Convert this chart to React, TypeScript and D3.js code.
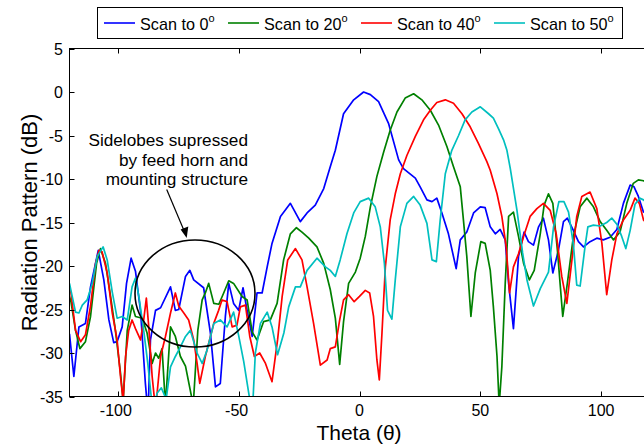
import React from "react";
import * as d3 from "d3";

type Pt = [number, number];

const xTicks = [-100, -50, 0, 50, 100];
const yTicks = [5, 0, -5, -10, -15, -20, -25, -30, -35];
const seriesNames = ["Scan to 0", "Scan to 20", "Scan to 40", "Scan to 50"];
const seriesColors = ["#0000ff", "#008000", "#ff0000", "#00bfbf"];
const noteLines = ["Sidelobes supressed", "by feed horn and", "mounting structure"];

const scan0: Pt[] = [
  [-120, -27.8], [-118.2, -32.7], [-116.1, -27.0], [-113.4, -26.6], [-111.3, -22.4], [-108.1, -18.2],
  [-105.8, -21.6], [-103.7, -26.2], [-101.7, -28.8], [-100.3, -28.7], [-98.2, -27.0], [-96.4, -22.0],
  [-94.5, -19.1], [-92.7, -20.6], [-90.6, -25.2], [-88.6, -33.5], [-87.5, -37], [-86.5, -28.5],
  [-84.4, -25.1], [-82.3, -24.8], [-78.2, -22.4], [-76.2, -25.1], [-74.8, -25.0], [-72, -21.2],
  [-70.2, -20.5], [-68.6, -21.6], [-64.5, -22.5], [-61.7, -27.7], [-59.6, -33.9], [-57.6, -33.5],
  [-55.5, -25.8], [-54.1, -22], [-52.1, -24.3], [-50, -25.1], [-48.2, -22.5], [-46.5, -25.1],
  [-44.4, -28.1], [-42.4, -23.1], [-40.3, -23.1], [-38.2, -20.1], [-36.2, -17.4], [-32.7, -14.3],
  [-28.6, -12.8], [-24.5, -14.9], [-21.7, -13.9], [-18.3, -13.0], [-14.8, -11.1], [-12.1, -8.6],
  [-10, -6.7], [-6.6, -2.5], [-2.4, -0.9], [1.7, 0.0], [4.5, -0.3], [7.9, -1.1], [12, -3.6],
  [16.2, -7.8], [18.2, -8.8], [23.1, -9.9], [25.1, -10.9], [27.9, -12.4], [30, -12.6], [32, -12.2],
  [34.1, -13.9], [36.8, -16.3], [40, -20.3], [41.7, -17], [44.4, -16.1], [47.2, -13.9], [50, -13.2],
  [52, -13.3], [54.1, -15.5], [56.2, -16.3], [58.2, -15.8], [60.3, -17], [61.7, -22], [63.7, -27.2],
  [65.8, -18.9], [68.1, -16.1], [69.9, -17.2], [72, -17.6], [74.1, -15.5], [76.1, -14.5], [78.2, -17],
  [80, -20.8], [82.3, -18.2], [84.4, -14.9], [86, -14.5], [88.5, -15.9], [90.6, -17.2], [92.7, -17.8],
  [95.4, -17.2], [98.2, -16.8], [100.9, -17], [103.7, -16.7], [106.5, -15.8], [109.2, -12.8],
  [112, -10.7], [113.6, -10.9], [115.4, -12], [117.5, -13.8], [120, -13.5],
];

const scan20: Pt[] = [
  [-120, -23.5], [-119.4, -24.1], [-117.5, -27.4], [-115.7, -29.5], [-113.4, -28.7], [-111.3, -25.8],
  [-108.8, -19.7], [-107.2, -18.0], [-105.1, -19.7], [-103, -23.5], [-101, -27.4], [-98.9, -32.3],
  [-97.8, -35.5], [-96.1, -27.4], [-94.1, -24.5], [-92.7, -25.8], [-89.9, -26], [-87.9, -27.7],
  [-85.8, -31.2], [-84.4, -30], [-83.1, -30.6], [-81.7, -29.5], [-80.3, -36], [-78.2, -27],
  [-76.2, -28.1], [-74.1, -30.4], [-72, -31.5], [-68.8, -36], [-66.9, -27.4], [-65.1, -23.9],
  [-63.8, -23.1], [-62.4, -22], [-60.3, -24.3], [-58.2, -24.4], [-56.2, -23.1], [-54.1, -21.7],
  [-52.1, -22], [-48.6, -23.5], [-46.5, -23.9], [-44.4, -27.6], [-42.4, -28.5], [-39.7, -26.4],
  [-36.9, -26.2], [-34.1, -24.3], [-31.4, -19.3], [-28.6, -16.3], [-26.1, -15.6], [-23.8, -16.1],
  [-21, -16.8], [-17.6, -17.8], [-14.8, -19.7], [-12.1, -22.7], [-10, -26], [-8.2, -31.3],
  [-6.6, -26.4], [-4.5, -22], [-1.7, -20.7], [0.3, -19.1], [2.4, -16.6], [4.5, -13.2], [7.2, -9.7],
  [10, -6.9], [12.7, -4.4], [15.5, -2.3], [18.9, -0.7], [22.4, -0.2], [25.8, -0.9], [29.3, -2.1],
  [32.7, -3.8], [36.2, -6.3], [38.9, -8.6], [41.7, -10.9], [43, -14.7], [44.4, -18.9], [46.1, -25.8],
  [47.9, -20.8], [50.2, -17.2], [52, -17.4], [54.1, -20.5], [55.4, -24.7], [56.9, -30.4], [57.8, -36],
  [58.9, -31.6], [60.3, -22], [61.7, -14.3], [63.7, -13.8], [65.8, -16.6], [67.9, -19.7], [70.3, -21.6],
  [72.3, -20.5], [74.8, -16.3], [76.4, -13.0], [78.2, -11.7], [80, -12.8], [81.9, -18.2], [84.1, -25.8],
  [86, -22], [88.5, -16.6], [91.3, -13.2], [94.1, -12.2], [96.8, -13.2], [99.6, -14.9], [102.3, -15.9],
  [105.1, -17], [107.8, -16.1], [110.6, -12.8], [113.3, -10.5], [115.4, -10.1], [117.5, -10.2], [120, -10.5],
];

const scan40: Pt[] = [
  [-120, -22.5], [-119.4, -23.1], [-117.5, -27.4], [-115.4, -28.7], [-113.4, -27.9], [-111.3, -24.6],
  [-109.2, -19.7], [-107.8, -18.2], [-106.5, -18.4], [-104.4, -20.8], [-102.3, -25.4], [-100.3, -28.5],
  [-98.9, -32.7], [-97.8, -35.5], [-96.8, -30.4], [-95.5, -27.4], [-94.1, -26.2], [-92.7, -27.2],
  [-90.6, -28.5], [-89.3, -26.2], [-88.2, -23.7], [-87.2, -27], [-85.8, -32.7], [-84.4, -36.5],
  [-82.3, -30.4], [-80.3, -28.1], [-78.2, -25.4], [-76.2, -23.1], [-74.8, -24.6], [-72.7, -25.4],
  [-70.7, -26.2], [-68.6, -28.5], [-67.2, -31.2], [-66.1, -33.5], [-63.8, -30.4], [-60.3, -26.6],
  [-58.3, -25.1], [-56.9, -23.9], [-54.8, -24.1], [-52.7, -27], [-50.7, -26.8], [-49.3, -24.7],
  [-47.2, -24.5], [-45.4, -28.1], [-43.5, -30.4], [-41.3, -30], [-38.9, -31.2], [-36.2, -33.3],
  [-33.9, -28.5], [-32, -23.5], [-29.7, -19.3], [-26.5, -18.0], [-23.8, -19.3], [-21.7, -22.4],
  [-19, -26.6], [-16.2, -31.4], [-13.4, -30.8], [-12.1, -29.5], [-10, -29.3], [-8.2, -26.2],
  [-6.6, -23.9], [-4.5, -23.3], [-2.2, -24.1], [0, -23.5], [2.4, -22.8], [4.2, -23.1], [5.8, -25.8],
  [7.2, -30.8], [8.2, -33.1], [9.3, -27.7], [10.7, -20.1], [12.7, -14.7], [14.8, -11.7], [16.9, -9.4],
  [19.6, -7.3], [23.1, -5.1], [26.5, -3.2], [29.3, -2.1], [32, -1.2], [35.5, -0.9], [38.9, -1.3],
  [42.4, -2.5], [45.8, -4.0], [49.2, -5.9], [52.7, -8.0], [54.1, -9.0], [56.9, -11.7], [58.9, -14.3],
  [60.7, -17.8], [62.1, -23.1], [63.7, -20.1], [65.8, -18.6], [67.9, -16.6], [70.6, -14.3],
  [73.4, -13.4], [76.1, -12.8], [78.9, -13.6], [81.4, -16.3], [83.7, -21.2], [85.8, -24.3],
  [87.9, -19.3], [89.9, -14.3], [92, -12.0], [95.4, -11.5], [98.2, -13.4], [100.3, -17.4],
  [102.3, -23.3], [104.4, -19.3], [106.5, -16.3], [109.2, -14.7], [112, -13.6], [114, -12.2],
  [115.8, -12.8], [117.5, -14.7], [120, -15.5],
];

const scan50: Pt[] = [
  [-120, -22.0], [-119.4, -22.8], [-117.5, -25.3], [-116.1, -25.4], [-114.7, -24.5], [-112.7, -23.9],
  [-110.6, -22], [-108.5, -18.9], [-106.1, -17.8], [-104.4, -19.3], [-102.3, -23], [-100.3, -26],
  [-98.2, -25.8], [-96.1, -26.2], [-94.1, -22.4], [-92.7, -21.4], [-91.3, -23.5], [-89.3, -27.4],
  [-87.6, -31.2], [-86.2, -35], [-85, -36], [-83.7, -34.6], [-82, -34], [-80, -35.3], [-78.2, -31.6],
  [-76.2, -30.4], [-74.1, -29.3], [-72, -28.1], [-70, -27.4], [-67.2, -30], [-65.1, -31.2],
  [-63.1, -29.7], [-60.3, -26.6], [-57.6, -26.2], [-54.8, -27], [-52.1, -25.3], [-50, -28],
  [-47.9, -31], [-45.9, -34.5], [-45, -36], [-44, -35], [-43.1, -30], [-41, -26.6], [-38.2, -25.3],
  [-36.2, -27], [-33.9, -30.2], [-31.3, -27.7], [-29.3, -24.7], [-26.5, -22.4], [-24.5, -22.4],
  [-21.7, -20.5], [-17.6, -19.1], [-14.1, -20.1], [-12.1, -20.5], [-10, -21.2], [-8, -19.3],
  [-5.2, -16.3], [-2.4, -13.9], [0.3, -12.6], [3.8, -12.2], [6.5, -13.2], [8.6, -15.5], [10.3, -19.7],
  [11.6, -25.1], [13.4, -26.1], [14.8, -21.6], [16.9, -15.5], [19.6, -12.8], [22.4, -12.0],
  [25.1, -13.0], [27.9, -15.1], [30, -19.3], [31.8, -19.5], [33.4, -14.7], [35.5, -9.4], [38.2, -6.7],
  [41, -5.0], [43.7, -3.2], [46.5, -2.3], [50, -1.7], [53.4, -2.5], [55.4, -3.0], [57.5, -4.2],
  [59.6, -5.5], [61, -6.7], [62.4, -8.8], [65.1, -13.5], [67.5, -18.5], [69.3, -21.6], [72, -24.6],
  [74.8, -22.6], [78.2, -20.7], [80.3, -15.5], [82.5, -12.6], [84.6, -12.6], [86.5, -13.8],
  [88.5, -17.5], [89.9, -22.2], [91.3, -22.3], [93.4, -17.6], [94.5, -15.5], [96.8, -15.3],
  [99.6, -15.4], [102.3, -15.0], [104.4, -14.5], [106.5, -15.2], [108.5, -16.6], [110.2, -18.0],
  [112, -15.9], [114, -12.9], [116.1, -12.2], [117.5, -12.4], [120, -13],
];

const allSeries = [scan0, scan20, scan40, scan50];

const W = 644;
const H = 445;
const L = 69.5, R = 649.5, T = 48.5, B = 396.5;
const FONT = "'Liberation Sans', Arial, Helvetica, sans-serif";

export default function App() {
  const x = d3.scaleLinear().domain([-120, 120]).range([L, R]);
  const y = d3.scaleLinear().domain([-35, 5]).range([B, T]);
  const line = d3.line<Pt>().x((d) => x(d[0])).y((d) => y(d[1]));
  const tick = 5;
  const legendX = [104, 228, 361, 494];

  return (
    <svg width={W} height={H} style={{ position: "absolute", left: 0, top: 0, background: "#fff" }} fontFamily={FONT}>
      <defs>
        <clipPath id="plotclip">
          <rect x={L} y={T} width={R - L} height={B - T} />
        </clipPath>
      </defs>
      <rect x={0} y={0} width={W} height={H} fill="#fff" />
      <g clipPath="url(#plotclip)">
        {allSeries.map((s, i) => (
          <path key={i} d={line(s) || ""} fill="none" stroke={seriesColors[i]} strokeWidth={1.7} strokeLinejoin="round" />
        ))}
      </g>
      <rect x={L} y={T} width={R - L} height={B - T} fill="none" stroke="#000" strokeWidth={1} />
      {xTicks.map((t) => (
        <g key={"x" + t}>
          <line x1={Math.round(x(t)) + 0.5} x2={Math.round(x(t)) + 0.5} y1={B} y2={B - tick} stroke="#000" />
          <line x1={Math.round(x(t)) + 0.5} x2={Math.round(x(t)) + 0.5} y1={T} y2={T + tick} stroke="#000" />
          <text x={x(t) - (t < 0 ? 2 : 0)} y={416} fontSize={16} textAnchor="middle" fill="#000">{t}</text>
        </g>
      ))}
      {yTicks.map((t) => (
        <g key={"y" + t}>
          <line x1={L} x2={L + tick} y1={Math.round(y(t)) + 0.5} y2={Math.round(y(t)) + 0.5} stroke="#000" />
          <line x1={R} x2={R - tick} y1={Math.round(y(t)) + 0.5} y2={Math.round(y(t)) + 0.5} stroke="#000" />
          <text x={63} y={y(t) + 6} fontSize={16} textAnchor="end" fill="#000">{t}</text>
        </g>
      ))}
      <text x={359} y={440} fontSize={21} textAnchor="middle" fill="#000">Theta (θ)</text>
      <text transform={`translate(37,${(T + B) / 2}) rotate(-90)`} fontSize={22} textAnchor="middle" fill="#000">
        Radiation Pattern (dB)
      </text>
      {noteLines.map((s, i) => (
        <text key={s} x={248} y={146 + i * 19.5} fontSize={17.2} textAnchor="end" fill="#000">{s}</text>
      ))}
      <ellipse cx={195} cy={293.5} rx={60} ry={53.5} fill="none" stroke="#000" strokeWidth={1.6} />
      <line x1={166.7} y1={189.5} x2={184.2} y2={231} stroke="#000" strokeWidth={1.2} />
      <path d="M186.7,238 L180.6,229.6 L188.3,226.4 Z" fill="#000" />
      <rect x={97.5} y={7.5} width={525} height={31} fill="#fff" stroke="#000" strokeWidth={1} />
      {seriesNames.map((n, i) => (
        <g key={n}>
          <line x1={legendX[i]} x2={legendX[i] + 31} y1={23} y2={23} stroke={seriesColors[i]} strokeWidth={1.6} />
          <text x={legendX[i] + 36} y={30} fontSize={16.2} fill="#000">
            {n}
            <tspan fontSize={11} dy={-8}>o</tspan>
          </text>
        </g>
      ))}
    </svg>
  );
}
